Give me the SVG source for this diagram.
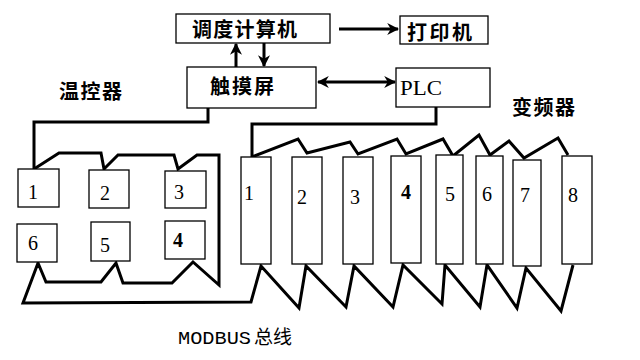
<svg xmlns="http://www.w3.org/2000/svg" width="640" height="360" viewBox="0 0 640 360">
<style>
.box{fill:#fff;stroke:#000;stroke-width:1.3}
.cn{font-family:"Noto Sans CJK SC",sans-serif;font-size:20px;font-weight:bold;fill:#000}
.num{font-family:"Liberation Serif",serif;font-size:20px;fill:#000}
.wire{fill:none;stroke:#000;stroke-width:3;stroke-linejoin:miter}
.arr{fill:none;stroke:#000;stroke-width:3}
</style>
<defs>
<marker id="ah" viewBox="0 0 10 10" refX="9" refY="5" markerWidth="4" markerHeight="4" orient="auto-start-reverse" markerUnits="strokeWidth">
<path d="M0,0 L10,5 L0,10 L3,5 z" fill="#000"/>
</marker>
</defs>
<rect width="640" height="360" fill="#fff"/>
<g id="connectors">
<line class="arr" x1="339" y1="29" x2="398" y2="29" marker-end="url(#ah)"/>
<line class="arr" x1="236" y1="67" x2="236" y2="44" marker-end="url(#ah)"/>
<line class="arr" x1="264" y1="43" x2="264" y2="66" marker-end="url(#ah)"/>
<line class="arr" x1="318" y1="82" x2="395" y2="82" marker-start="url(#ah)" marker-end="url(#ah)"/>
<path class="wire" d="M208,108 L208,122 L34,122 L34,169"/>
<path class="wire" d="M34,169 L59,153 L101,153 L104,169 L118,155 L174,155 L178,169 L197,155 L219,155 L219,285 L193,262 L172,283 L123,283 L116,263 L101,282 L46,282 L38,263 L23,303 L251,302 L261,266 L299,308 L306,266 L346,307 L354,266 L393,307 L403,265 L442,304 L445,265 L480,307 L487,265 L517,308 L526,268 L561,311 L573,265"/>
<path class="wire" d="M436,107 L436,124 L252,124 L252,157 L298,139 L307,153 L350,142 L358,154 L397,139 L406,154 L443,139 L453,156 L479,135 L490,155 L509,141 L524,158 L558,138 L568,155"/>
</g>
<g id="computer"><rect class="box" x="176" y="14" width="154" height="29"/><text class="cn" x="192" y="37" textLength="105">调度计算机</text></g>
<g id="printer"><rect class="box" x="400" y="16" width="88" height="28"/><text class="cn" x="407" y="40" textLength="65">打印机</text></g>
<g id="touch"><rect class="box" x="187" y="67" width="129" height="41"/><text class="cn" x="210" y="94" textLength="64">触摸屏</text></g>
<g id="plc"><rect class="box" x="396" y="68" width="94" height="39"/><text class="num" x="400" y="95" font-size="21" textLength="42" lengthAdjust="spacingAndGlyphs">PLC</text></g>
<text class="cn" x="59" y="99" textLength="63">温控器</text>
<text class="cn" x="512" y="115" textLength="63">变频器</text>
<g id="t1"><rect class="box" x="18" y="169" width="41" height="38"/><text class="num" x="28" y="199">1</text></g>
<g id="t2"><rect class="box" x="89" y="170" width="40" height="38"/><text class="num" x="100" y="200">2</text></g>
<g id="t3"><rect class="box" x="165" y="171" width="41" height="37"/><text class="num" x="174" y="199">3</text></g>
<g id="t6"><rect class="box" x="17" y="224" width="40" height="38"/><text class="num" x="28" y="250">6</text></g>
<g id="t5"><rect class="box" x="91" y="222" width="39" height="39"/><text class="num" x="100" y="252">5</text></g>
<g id="t4"><rect class="box" x="165" y="221" width="40" height="38"/><text class="num" x="173" y="247" font-weight="bold">4</text></g>
<g id="v1"><rect class="box" x="241" y="157" width="30" height="107"/><text class="num" x="244" y="200">1</text></g>
<g id="v2"><rect class="box" x="292" y="157" width="30" height="107"/><text class="num" x="297" y="204">2</text></g>
<g id="v3"><rect class="box" x="343" y="157" width="30" height="107"/><text class="num" x="350" y="204">3</text></g>
<g id="v4"><rect class="box" x="391" y="156" width="30" height="107"/><text class="num" x="401" y="199" font-weight="bold">4</text></g>
<g id="v5"><rect class="box" x="436" y="155" width="27" height="109"/><text class="num" x="445" y="201">5</text></g>
<g id="v6"><rect class="box" x="476" y="156" width="27" height="108"/><text class="num" x="482" y="201">6</text></g>
<g id="v7"><rect class="box" x="513" y="160" width="28" height="106"/><text class="num" x="520" y="202">7</text></g>
<g id="v8"><rect class="box" x="562" y="156" width="30" height="108"/><text class="num" x="568" y="202">8</text></g>
<text x="178" y="344" font-family="'Liberation Mono',monospace" font-size="19" textLength="73" lengthAdjust="spacingAndGlyphs">MODBUS</text>
<text x="254" y="344" font-family="'Noto Sans CJK SC',sans-serif" font-size="19">总线</text>
</svg>
